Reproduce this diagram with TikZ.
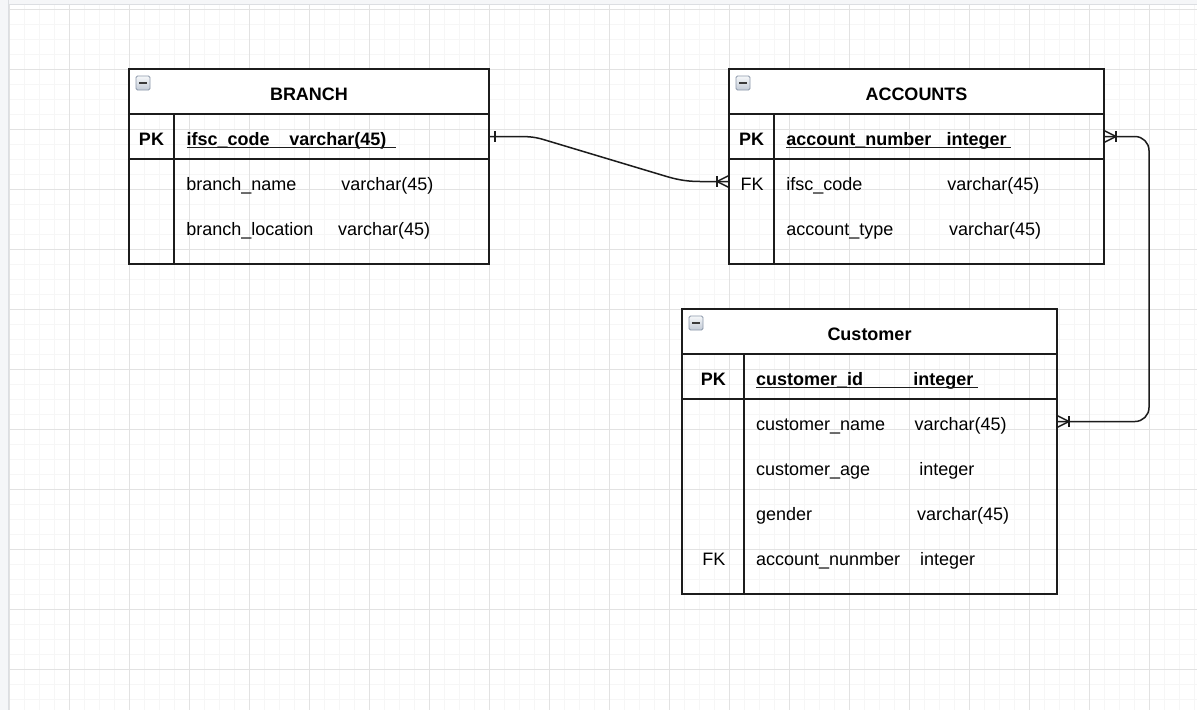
\documentclass[tikz,border=0pt]{standalone}
\usepackage{fontspec}
\setmainfont{Liberation Sans}
\usetikzlibrary{calc}

\definecolor{minorgrid}{HTML}{F6F6F6}
\definecolor{majorgrid}{HTML}{E2E2E2}
\definecolor{panel}{HTML}{F5F6F8}
\definecolor{panelline}{HTML}{DCDEE2}
\definecolor{ink}{HTML}{1C1C1C}
\definecolor{iconedge}{HTML}{8C98AA}
\definecolor{icontop}{HTML}{F6F8FA}
\definecolor{iconbot}{HTML}{C2CAD6}
\definecolor{iconbar}{HTML}{3A3A3A}

\tikzset{
  tblframe/.style={draw=ink, line width=1.5pt},
  rowbox/.style={inner sep=0pt, outer sep=0pt, anchor=north west, minimum height=45pt},
  txt/.style={inner sep=0pt, outer sep=0pt, anchor=base west, text=black,
              font=\fontsize{18pt}{21pt}\selectfont},
  ctxt/.style={txt, anchor=base},
  btxt/.style={txt, font=\fontsize{18pt}{21pt}\selectfont\bfseries},
  cbtxt/.style={btxt, anchor=base},
  uline/.style={draw=ink, line width=1.3pt},
  conn/.style={draw=ink, line width=1.5pt},
  marker/.style={draw=ink, line width=1.5pt},
  icon/.style={draw=iconedge, line width=0.8pt, rounded corners=1.5pt,
               top color=icontop, bottom color=iconbot,
               minimum size=14pt, inner sep=0pt},
  iconminus/.style={draw=iconbar, line width=2pt},
}

\begin{document}
\begin{tikzpicture}[x=1pt, y=-1pt]
  \useasboundingbox (0,0) rectangle (1197,710);

  % canvas and side panels
  \fill[white] (0,0) rectangle (1197,710);
  \fill[panel] (0,0) rectangle (8,710);
  \fill[panel] (0,0) rectangle (1197,4);

  % background grid
  \begin{scope}
    \clip (9,5) rectangle (1197,710);
    \foreach \k in {0,...,79}
      \draw[minorgrid, line width=1pt] ({9+15*\k},5) -- ({9+15*\k},710);
    \foreach \k in {0,...,47}
      \draw[minorgrid, line width=1pt] (9,{9+15*\k}) -- (1197,{9+15*\k});
    \foreach \k in {0,...,19}
      \draw[majorgrid, line width=1pt] ({9+60*\k},5) -- ({9+60*\k},710);
    \foreach \k in {0,...,11}
      \draw[majorgrid, line width=1pt] (9,{9+60*\k}) -- (1197,{9+60*\k});
  \end{scope}
  \draw[panelline, line width=1pt] (8.5,0) -- (8.5,710);
  \draw[panelline, line width=1pt] (8.5,4.5) -- (1197,4.5);

  % ---------------- BRANCH ----------------
  \fill[white] (129,69) rectangle (489,114);
  \node[tblframe, rowbox, minimum width=360pt, minimum height=195pt] (branch) at (129,69) {};
  \node[rowbox, minimum width=360pt] (branch-pk) at (129,114) {};
  \node[rowbox, minimum width=360pt] (branch-r1) at (129,159) {};
  \node[rowbox, minimum width=360pt] (branch-r2) at (129,204) {};
  \draw[tblframe] (branch-pk.north west) -- (branch-pk.north east);
  \draw[tblframe] (branch-pk.south west) -- (branch-pk.south east);
  \draw[tblframe] (174,114) -- (174,264);
  \node[icon] (branch-icon) at (143,83) {};
  \draw[iconminus] ($(branch-icon.center)+(-4,0)$) -- ++(8,0);

  \node[cbtxt] (branch-title) at (309,100) {BRANCH};
  \node[cbtxt] (branch-pklbl) at (151.5,145) {PK};
  \node[btxt] (branch-k) at (186.5,145) {ifsc\_code};
  \node[btxt] (branch-kt) at (289.3,145) {varchar(45)};
  \draw[uline] (186.5,147.5) -- (396,147.5);
  \node[txt] (branch-a1) at (186.3,190) {branch\_name};
  \node[txt] (branch-a1t) at (341.3,190) {varchar(45)};
  \node[txt] (branch-a2) at (186.3,235) {branch\_location};
  \node[txt] (branch-a2t) at (338,235) {varchar(45)};

  % ---------------- ACCOUNTS ----------------
  \fill[white] (729,69) rectangle (1104,114);
  \node[tblframe, rowbox, minimum width=375pt, minimum height=195pt] (accounts) at (729,69) {};
  \node[rowbox, minimum width=375pt] (accounts-pk) at (729,114) {};
  \node[rowbox, minimum width=375pt] (accounts-fk) at (729,159) {};
  \node[rowbox, minimum width=375pt] (accounts-r2) at (729,204) {};
  \draw[tblframe] (accounts-pk.north west) -- (accounts-pk.north east);
  \draw[tblframe] (accounts-pk.south west) -- (accounts-pk.south east);
  \draw[tblframe] (774,114) -- (774,264);
  \node[icon] (accounts-icon) at (743,83) {};
  \draw[iconminus] ($(accounts-icon.center)+(-4,0)$) -- ++(8,0);

  \node[cbtxt] (accounts-title) at (916.5,100) {ACCOUNTS};
  \node[cbtxt] (accounts-pklbl) at (751.5,145) {PK};
  \node[btxt] (accounts-k) at (786.3,145) {account\_number};
  \node[btxt] (accounts-kt) at (946.7,145) {integer};
  \draw[uline] (786.3,147.5) -- (1010.7,147.5);
  \node[ctxt] (accounts-fklbl) at (752,190) {FK};
  \node[txt] (accounts-a1) at (786.3,190) {ifsc\_code};
  \node[txt] (accounts-a1t) at (947.3,190) {varchar(45)};
  \node[txt] (accounts-a2) at (786.3,235) {account\_type};
  \node[txt] (accounts-a2t) at (949,235) {varchar(45)};

  % ---------------- Customer ----------------
  \fill[white] (682,309) rectangle (1057,354);
  \node[tblframe, rowbox, minimum width=375pt, minimum height=285pt] (customer) at (682,309) {};
  \node[rowbox, minimum width=375pt] (customer-pk) at (682,354) {};
  \node[rowbox, minimum width=375pt] (customer-r1) at (682,399) {};
  \node[rowbox, minimum width=375pt] (customer-r2) at (682,444) {};
  \node[rowbox, minimum width=375pt] (customer-r3) at (682,489) {};
  \node[rowbox, minimum width=375pt] (customer-fk) at (682,534) {};
  \draw[tblframe] (customer-pk.north west) -- (customer-pk.north east);
  \draw[tblframe] (customer-pk.south west) -- (customer-pk.south east);
  \draw[tblframe] (744,354) -- (744,594);
  \node[icon] (customer-icon) at (696,323) {};
  \draw[iconminus] ($(customer-icon.center)+(-4,0)$) -- ++(8,0);

  \node[cbtxt] (customer-title) at (869.5,340) {Customer};
  \node[cbtxt] (customer-pklbl) at (713.3,385) {PK};
  \node[btxt] (customer-k) at (756,385) {customer\_id};
  \node[btxt] (customer-kt) at (913.3,385) {integer};
  \draw[uline] (756,387.5) -- (977.7,387.5);
  \node[txt] (customer-a1) at (756,430) {customer\_name};
  \node[txt] (customer-a1t) at (914.7,430) {varchar(45)};
  \node[txt] (customer-a2) at (756,475) {customer\_age};
  \node[txt] (customer-a2t) at (919.3,475) {integer};
  \node[txt] (customer-a3) at (756,520) {gender};
  \node[txt] (customer-a3t) at (917,520) {varchar(45)};
  \node[ctxt] (customer-fklbl) at (713.8,565) {FK};
  \node[txt] (customer-a4) at (756,565) {account\_nunmber};
  \node[txt] (customer-a4t) at (920,565) {integer};

  % ---------------- relationships ----------------
  % BRANCH.ifsc_code (one) -> ACCOUNTS.ifsc_code (many)
  \draw[conn] (branch-pk.east) -- (520,136.5)
    .. controls (535,136.5) and (540,138.5) .. (550,141.5)
    -- (665,176)
    .. controls (675,179) and (685,181.5) .. (700,181.5)
    -- (accounts-fk.west);
  \draw[marker] ($(branch-pk.east)+(6,-5.5)$) -- ++(0,11);
  \draw[marker] ($(accounts-fk.west)+(0,-6)$) -- ++(-12,6) -- ++(12,6);
  \draw[marker] ($(accounts-fk.west)+(-12,-5.5)$) -- ++(0,11);

  % ACCOUNTS.account_number (many) -> Customer (many)
  \draw[conn, rounded corners=14pt] (accounts-pk.east) -- (1149,136.5)
    -- (1149,421.5) -- (customer-r1.east);
  \draw[marker] ($(accounts-pk.east)+(0,-6)$) -- ++(12,6) -- ++(-12,6);
  \draw[marker] ($(accounts-pk.east)+(12,-5.5)$) -- ++(0,11);
  \draw[marker] ($(customer-r1.east)+(0,-6)$) -- ++(12,6) -- ++(-12,6);
  \draw[marker] ($(customer-r1.east)+(12,-5.5)$) -- ++(0,11);
\end{tikzpicture}
\end{document}
